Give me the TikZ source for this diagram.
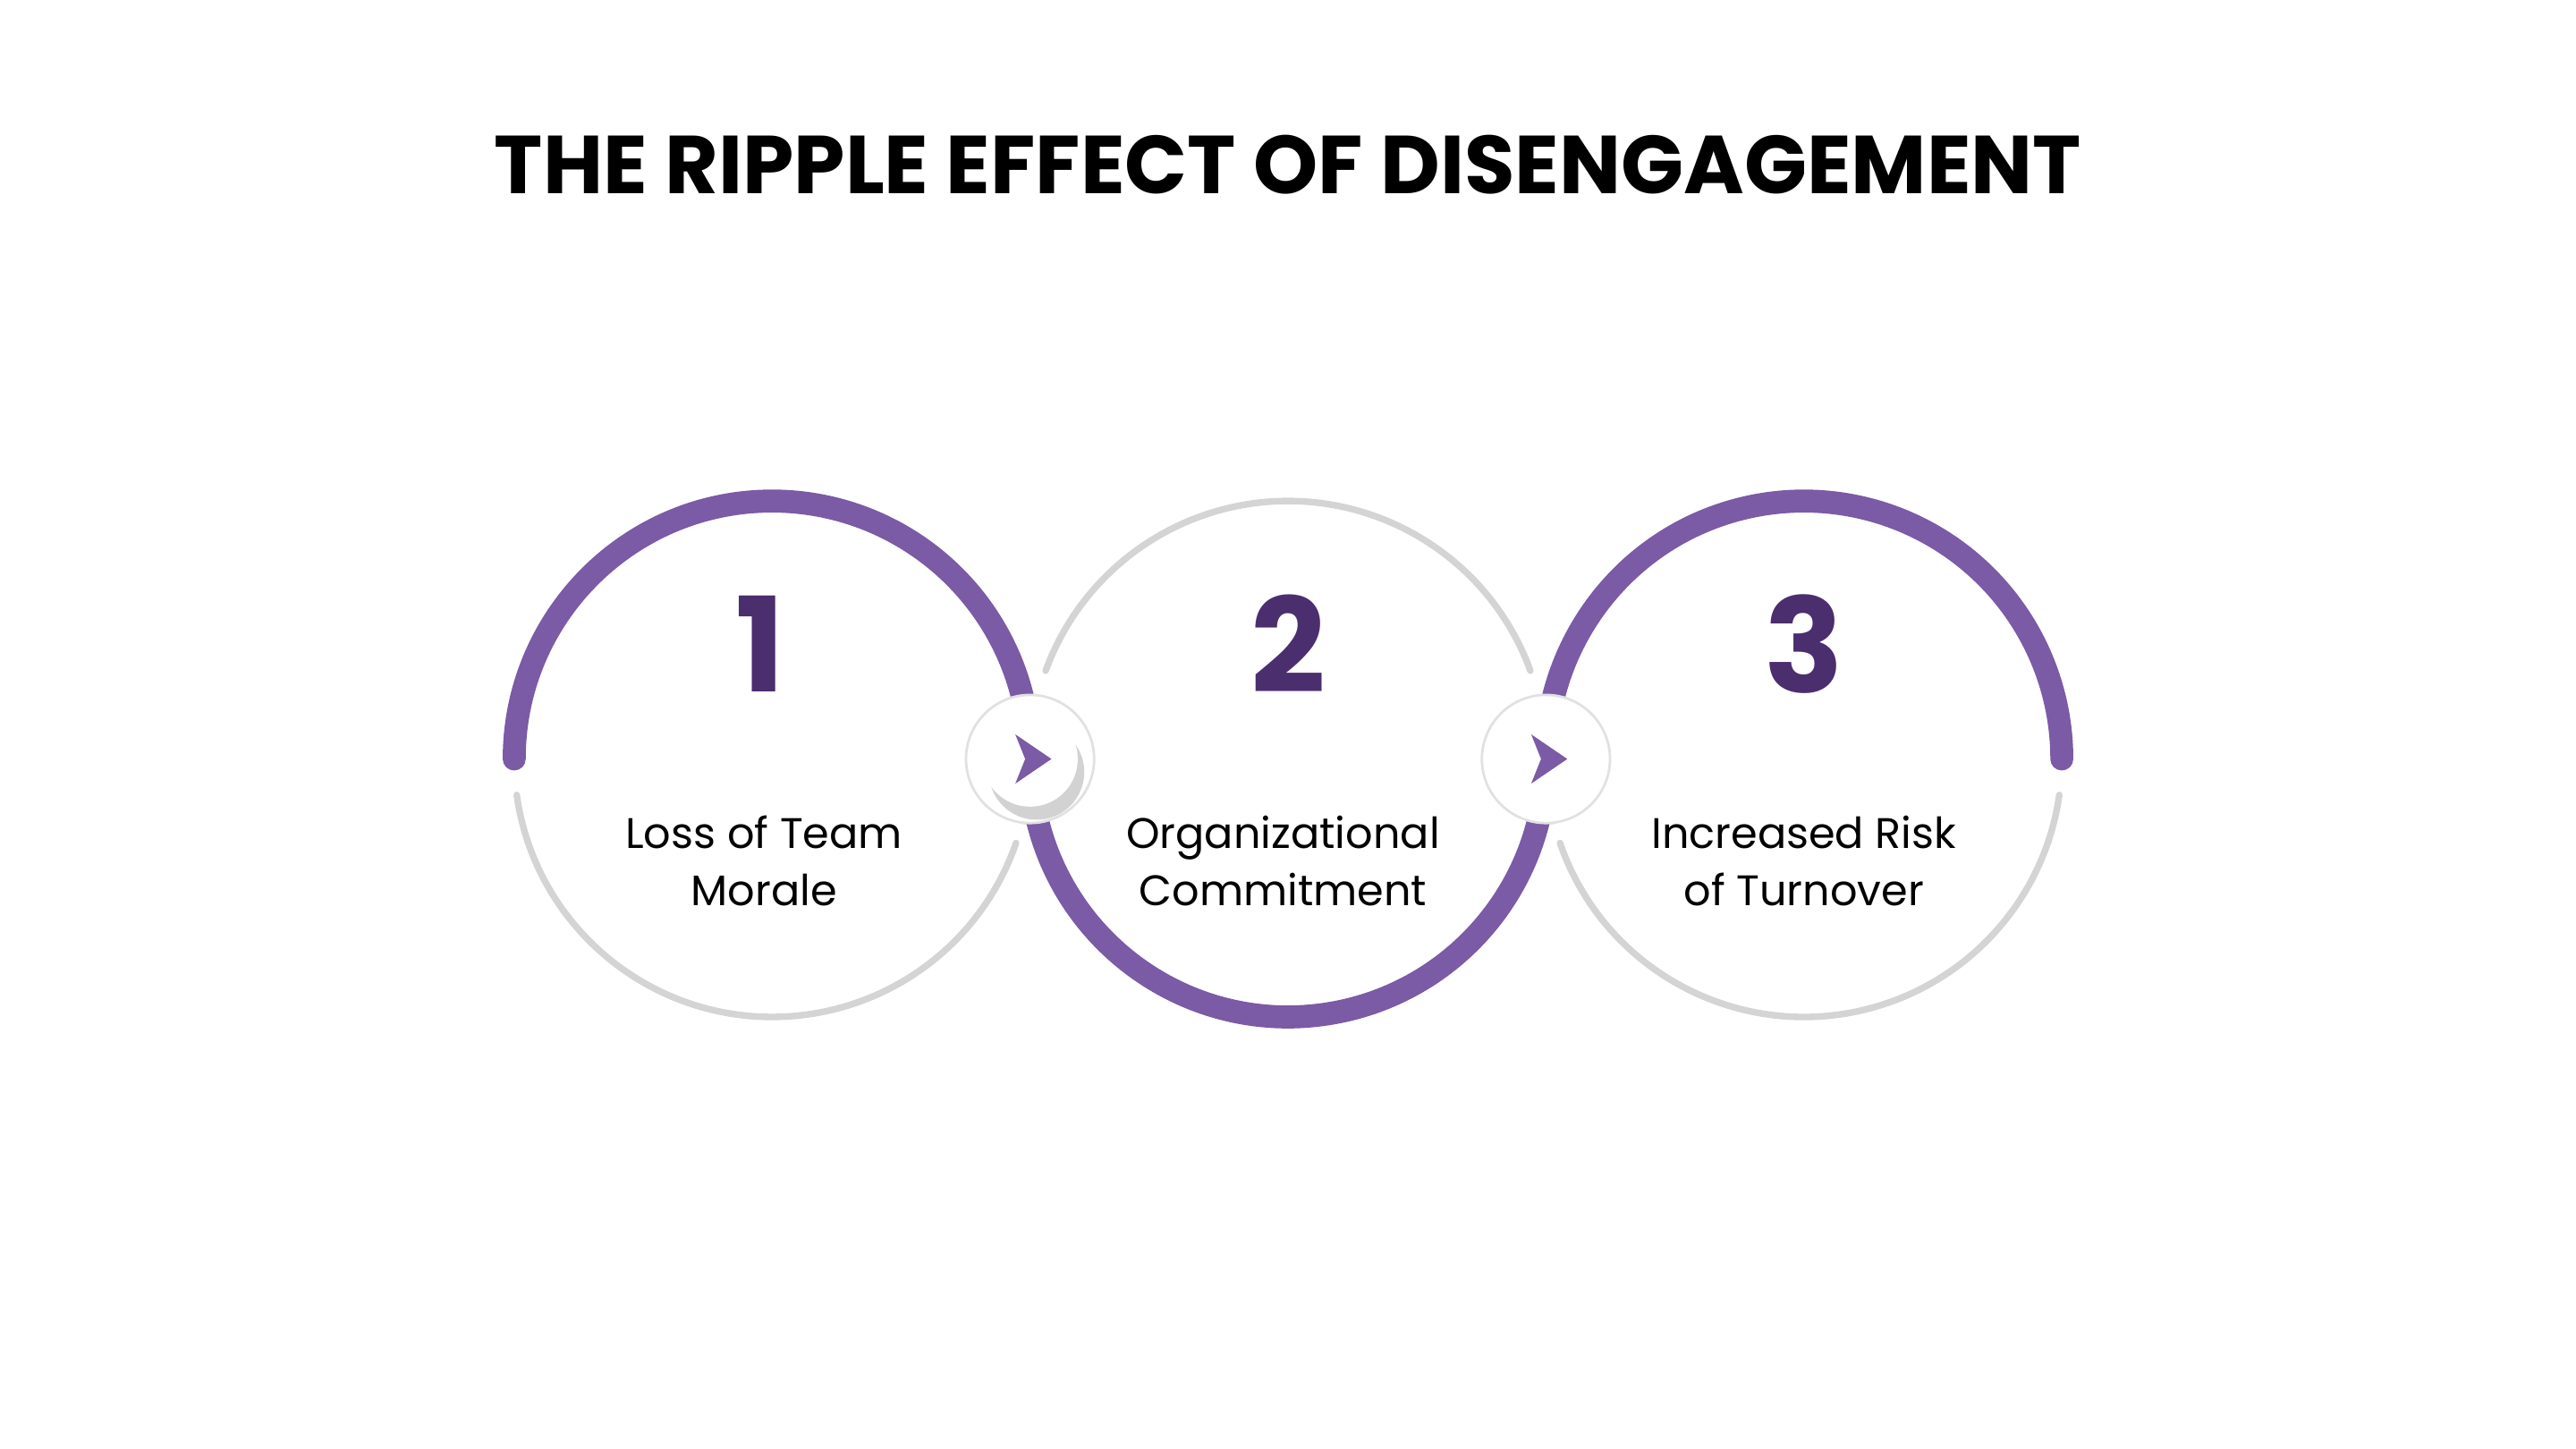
\documentclass[tikz,border=0pt]{standalone}
\usepackage{fontspec}
\setmainfont{Poppins}
\usetikzlibrary{shadows,calc}
\definecolor{purp}{HTML}{7B5AA6}
\definecolor{dpurp}{HTML}{4B2E6E}
\definecolor{lgrey}{HTML}{D4D4D4}
\tikzset{
  parc/.style={draw=purp,line width=14pt,line cap=round},
  garc/.style={draw=lgrey,line width=4pt,line cap=round},
  num/.style={font=\fontsize{80}{80}\selectfont\bfseries,text=dpurp},
  lbl/.style={font=\fontsize{26}{35}\selectfont,align=center,text=black},
  ring/.style={circle,minimum size=78pt,fill=white,draw=lgrey!70,line width=1.5pt,inner sep=0},
  btn/.style={circle,minimum size=58pt,fill=white,inner sep=0},
  chev/.style={fill=purp}
}
\begin{document}
\begin{tikzpicture}[x=1pt,y=1pt]
\useasboundingbox (0,0) rectangle (1568,882);
\node[font=\fontsize{50}{50}\selectfont\bfseries] (title) at (784,782) {THE RIPPLE EFFECT OF DISENGAGEMENT};
\coordinate (c1) at (470,420);
\coordinate (c2) at (784,420);
\coordinate (c3) at (1098,420);
% arcs
\draw[garc] (c1) ++(188:157) arc[start angle=188,end angle=341,radius=157];
\draw[garc] (c2) ++(20:157) arc[start angle=20,end angle=160,radius=157];
\draw[garc] (c3) ++(199:157) arc[start angle=199,end angle=352,radius=157];
\draw[parc] (c1) ++(180:157) arc[start angle=180,end angle=-12,radius=157];
\draw[parc] (c2) ++(190:157) arc[start angle=190,end angle=350,radius=157];
\draw[parc] (c3) ++(192:157) arc[start angle=192,end angle=0,radius=157];
% buttons
\node[ring] (r1) at (627,420) {};
\node[btn,drop shadow={opacity=0.35,shadow xshift=4pt,shadow yshift=-8pt}] (b1) at (r1) {};
\fill[chev] ($(b1)+(-9,15)$) -- ($(b1)+(13,0)$) -- ($(b1)+(-9,-15)$) -- ($(b1)+(-3,0)$) -- cycle;
\node[ring] (r2) at (941,420) {};
\fill[chev] ($(r2)+(-9,15)$) -- ($(r2)+(13,0)$) -- ($(r2)+(-9,-15)$) -- ($(r2)+(-3,0)$) -- cycle;
% texts
\node[num] (n1) at (463,490) {1};
\node[num] (n2) at (784,490) {2};
\node[num] (n3) at (1098,490) {3};
\node[lbl] (l1) at (465,358) {Loss of Team\\Morale};
\node[lbl] (l2) at (781,358) {Organizational\\Commitment};
\node[lbl] (l3) at (1098,358) {Increased Risk\\of Turnover};
\end{tikzpicture}
\end{document}
